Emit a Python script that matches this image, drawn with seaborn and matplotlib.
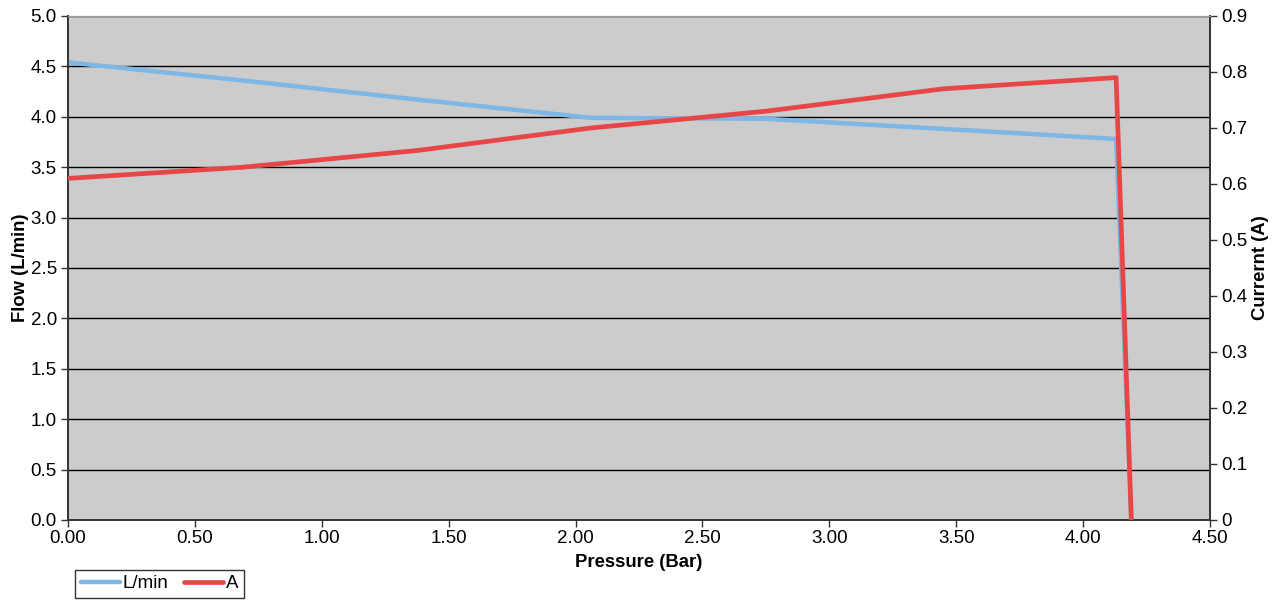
import numpy as np
import pandas as pd
import matplotlib
matplotlib.use('Agg')
import matplotlib.pyplot as plt
import seaborn as sns

# Pressure readings (bar) and measured flow / current
pressure = [0.00, 0.69, 1.38, 2.06, 2.75, 3.45, 4.13, 4.19]
flow = [4.54, 4.36, 4.17, 3.99, 3.98, 3.88, 3.78, 0.0]
current = [0.61, 0.63, 0.66, 0.70, 0.73, 0.77, 0.79, 0.0]

x_ticks = [0.0, 0.5, 1.0, 1.5, 2.0, 2.5, 3.0, 3.5, 4.0, 4.5]
flow_ticks = [0.0, 0.5, 1.0, 1.5, 2.0, 2.5, 3.0, 3.5, 4.0, 4.5, 5.0]
amp_ticks = [0.0, 0.1, 0.2, 0.3, 0.4, 0.5, 0.6, 0.7, 0.8, 0.9]

BLUE = '#7eb6e6'
RED = '#e84646'
FS = 13.5


def main():
    sns.set_style('white')
    plt.rcParams['font.family'] = ['Liberation Sans', 'DejaVu Sans']
    plt.rcParams['font.size'] = FS
    for key in ('text.color', 'axes.labelcolor', 'xtick.color', 'ytick.color'):
        plt.rcParams[key] = 'black'

    df = pd.DataFrame({'pressure': pressure, 'flow': flow, 'current': current})

    fig = plt.figure(figsize=(12.76, 6.0), dpi=100)
    ax = fig.add_axes([68 / 1276, 1 - 520 / 600, (1210 - 68) / 1276, (520 - 16) / 600])
    ax.set_facecolor('#cccccc')
    ax2 = ax.twinx()

    sns.lineplot(data=df, x='pressure', y='flow', ax=ax, color=BLUE, lw=3.2,
                 label='L/min', legend=False, sort=False, zorder=3)
    sns.lineplot(data=df, x='pressure', y='current', ax=ax2, color=RED, lw=3.4,
                 label='A', legend=False, sort=False, zorder=3)

    ax.set_xlim(0, 4.5)
    ax.set_ylim(0, 5.0)
    ax2.set_ylim(0, 0.9)
    ax.set_xticks(x_ticks)
    ax.set_xticklabels(['%.2f' % v for v in x_ticks])
    ax.set_yticks(flow_ticks)
    ax.set_yticklabels(['%.1f' % v for v in flow_ticks])
    ax2.set_yticks(amp_ticks)
    ax2.set_yticklabels(['0'] + ['%.1f' % v for v in amp_ticks[1:]])

    ax.yaxis.grid(True, color='black', lw=1.0)
    ax.xaxis.grid(False)
    ax.set_axisbelow(True)

    for a in (ax, ax2):
        a.tick_params(direction='out', length=5, width=1, color='#333333',
                      labelsize=FS, pad=3)
        for side in ('left', 'right', 'bottom'):
            a.spines[side].set_color('#333333')
            a.spines[side].set_linewidth(1.2)
        a.spines['top'].set_color('#999999')
    ax.tick_params(axis='y', left=True)
    ax.tick_params(axis='x', bottom=True, pad=2)
    ax2.tick_params(axis='y', right=True)

    ax.set_xlabel('Pressure (Bar)', fontweight='bold', fontsize=13.3, labelpad=5)
    ax.set_ylabel('Flow (L/min)', fontweight='bold', fontsize=13.3, labelpad=1)
    ax2.set_ylabel('Currernt (A)', fontweight='bold', fontsize=13.3, labelpad=3)

    h1, l1 = ax.get_legend_handles_labels()
    h2, l2 = ax2.get_legend_handles_labels()
    leg = fig.legend(h1 + h2, l1 + l2, loc='lower left',
                     bbox_to_anchor=(75 / 1276, 1 - 598 / 600), ncol=2,
                     frameon=True, fancybox=False, fontsize=FS,
                     handlelength=2.1, handletextpad=0.15, columnspacing=0.8,
                     borderpad=0.3, borderaxespad=0)
    leg.get_frame().set_edgecolor('black')
    leg.get_frame().set_linewidth(1.0)

    fig.savefig('out.png', dpi=100)


if __name__ == '__main__':
    main()
